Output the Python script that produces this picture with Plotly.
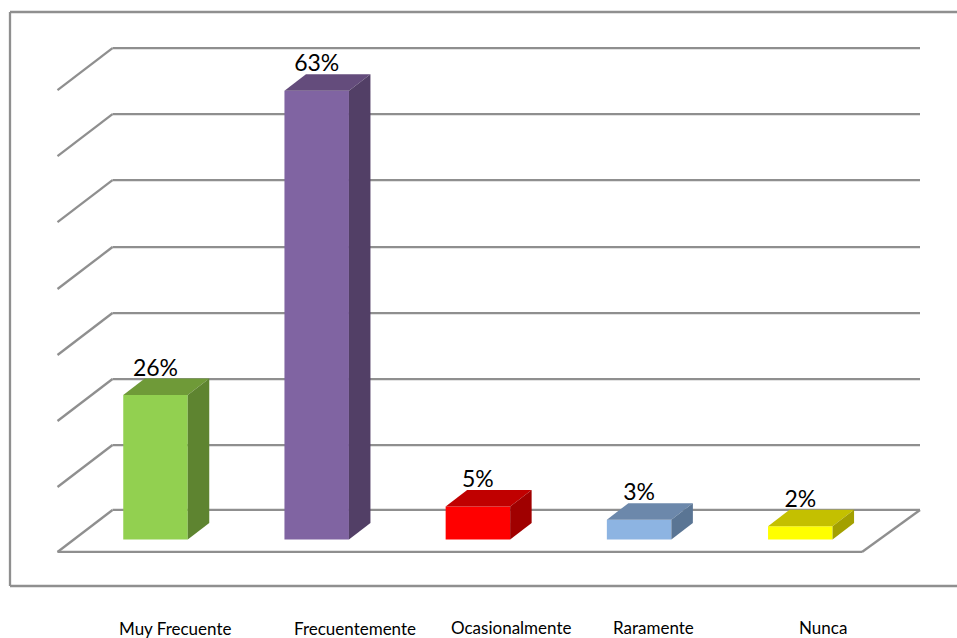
import plotly.graph_objects as go

# Data
categories = ["Muy Frecuente", "Frecuentemente", "Ocasionalmente", "Raramente", "Nunca"]
bar_heights = [21.9, 68, 5, 3, 2]          # drawn height on the value scale
bar_labels = ["26%", "63%", "5%", "3%", "2%"]
front_colors = ["#92D050", "#8064A2", "#FF0000", "#8DB4E2", "#FFFF00"]
top_colors = ["#6F9A38", "#644C7C", "#C00000", "#6C88AB", "#C4C000"]
side_colors = ["#5E8430", "#523F66", "#A00000", "#5A7594", "#A3A000"]
grid_levels = [-1.89, 7.95, 17.95, 27.95, 37.95, 48.1, 58.1, 68.1]

W, H = 957, 638
X0_PX, XUNIT = 155.5, 161.2   # pixel of category 0, pixels per category
Y0_PX, YUNIT = 539.5, 6.6     # pixel of value 0, pixels per value unit


def px_x(p):
    return (p - X0_PX) / XUNIT


def px_y(p):
    return (Y0_PX - p) / YUNIT


BAR_W = 64.5 / XUNIT
BAR_DX, BAR_DY = 21.5 / XUNIT, 16.5 / YUNIT
GRID_DX, GRID_DY = 55 / XUNIT, 42 / YUNIT
GRID_LEFT, GRID_RIGHT = px_x(57.5), px_x(862)
GRID_COLOR = "#8F8F8F"

fig = go.Figure()
xs = list(range(len(categories)))

fig.add_trace(go.Bar(
    x=xs, y=bar_heights, width=BAR_W, marker=dict(color=front_colors, line=dict(width=0)),
    hoverinfo="skip", showlegend=False,
))

for x, v, top, side in zip(xs, bar_heights, top_colors, side_colors):
    l, r = x - BAR_W / 2, x + BAR_W / 2
    fig.add_trace(go.Scatter(
        x=[l, r, r + BAR_DX, l + BAR_DX, l], y=[v, v, v + BAR_DY, v + BAR_DY, v],
        mode="lines", fill="toself", fillcolor=top, line=dict(width=0),
        hoverinfo="skip", showlegend=False,
    ))
    fig.add_trace(go.Scatter(
        x=[r, r + BAR_DX, r + BAR_DX, r, r], y=[0, BAR_DY, v + BAR_DY, v, 0],
        mode="lines", fill="toself", fillcolor=side, line=dict(width=0),
        hoverinfo="skip", showlegend=False,
    ))

fig.add_trace(go.Scatter(
    x=xs, y=[v + 25 / YUNIT for v in bar_heights], text=bar_labels, mode="text",
    textposition="middle center", textfont=dict(family="Lato", size=23, color="#000000"),
    hoverinfo="skip", showlegend=False,
))

shapes = []
line = dict(color=GRID_COLOR, width=2.3)
for lv in grid_levels:
    bx, by = GRID_LEFT + GRID_DX, lv + GRID_DY
    shapes.append(dict(type="line", xref="x", yref="y", layer="below",
                       x0=GRID_LEFT, y0=lv, x1=bx, y1=by, line=line))
    shapes.append(dict(type="line", xref="x", yref="y", layer="below",
                       x0=bx, y0=by, x1=GRID_RIGHT + GRID_DX + 3 / XUNIT, y1=by, line=line))
# floor front edge and right edge
fl = grid_levels[0]
shapes.append(dict(type="line", xref="x", yref="y", layer="below",
                   x0=GRID_LEFT, y0=fl, x1=GRID_RIGHT, y1=fl, line=line))
shapes.append(dict(type="line", xref="x", yref="y", layer="below",
                   x0=GRID_RIGHT, y0=fl, x1=GRID_RIGHT + GRID_DX + 3 / XUNIT, y1=fl + GRID_DY, line=line))
# outer chart frame, open at the right edge
for (a, b, c, d) in [(10, 12, 10, 586), (10, 12, 960, 12), (10, 586, 960, 586)]:
    shapes.append(dict(type="line", xref="paper", yref="paper", layer="below",
                       x0=a / W, y0=1 - b / H, x1=c / W, y1=1 - d / H, line=line))

label_x = [175, 355, 511, 653, 823]
label_y = [628, 628, 627, 627, 627]
annotations = [
    dict(text=t, xref="paper", yref="paper", x=a / W, y=1 - b / H, xanchor="center", yanchor="middle",
         showarrow=False, font=dict(family="Lato", size=17, color="#000000"))
    for t, a, b in zip(categories, label_x, label_y)
]

fig.update_layout(
    width=W, height=H, margin=dict(l=0, r=0, t=0, b=0),
    paper_bgcolor="#FFFFFF", plot_bgcolor="#FFFFFF", showlegend=False,
    xaxis=dict(range=[px_x(0), px_x(W)], visible=False),
    yaxis=dict(range=[px_y(H), px_y(0)], visible=False),
    shapes=shapes, annotations=annotations,
)
fig.write_html("out.html", post_script="document.body.style.margin='0';",
               config={"displayModeBar": False})
